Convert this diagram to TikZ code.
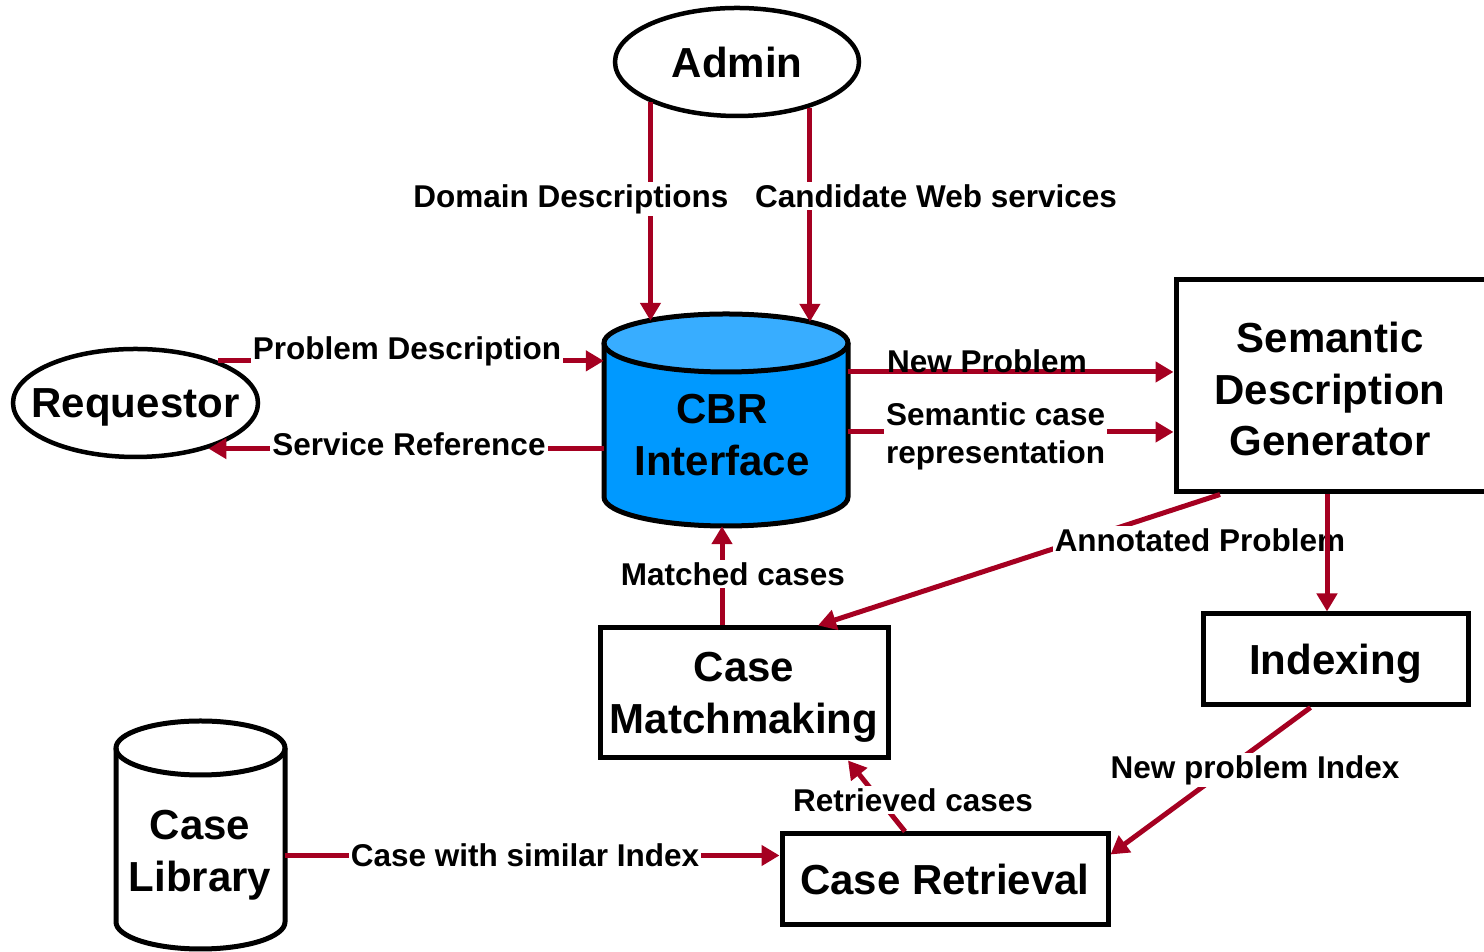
\documentclass[tikz,border=0pt]{standalone}
\usepackage{fontspec}
\setmainfont{Liberation Sans}
\usetikzlibrary{shapes.geometric,arrows.meta,calc}
\definecolor{arrowred}{HTML}{A50021}
\definecolor{cbrside}{HTML}{0099FF}
\definecolor{cbrtop}{HTML}{38ADFF}
\newcommand{\bigtxt}{\fontsize{42}{51.5}\selectfont\bfseries}
\newcommand{\smalltxt}{\fontsize{31.5}{38}\selectfont\bfseries}
\tikzset{
  flow/.style={draw=arrowred, line width=5pt, -{Triangle[length=18pt,width=20pt]}},
  lbl/.style={fill=white, inner sep=2pt, font=\smalltxt},
  box/.style={draw, line width=5pt, inner sep=0pt, align=center, text depth=0pt, font=\bigtxt},
  actor/.style={ellipse, draw, line width=4.5pt, inner sep=0pt, text depth=0pt, minimum width=244, minimum height=108, font=\bigtxt},
  cylline/.style={draw, line width=5pt}
}

\begin{document}
\begin{tikzpicture}[x=1pt,y=1pt]
\useasboundingbox (0,0) rectangle (1484,952);

\fill[cbrside] (604,609) -- (604,455) arc[start angle=180,end angle=360,x radius=122,y radius=29] -- (848,609) -- cycle;
\fill[cbrtop] (726,609) ellipse [x radius=122,y radius=29];
\draw[cylline] (604,609) -- (604,455) arc[start angle=180,end angle=360,x radius=122,y radius=29] -- (848,609);
\draw[cylline] (726,609) ellipse [x radius=122,y radius=29];
\node[inner sep=0pt, minimum width=244, minimum height=212] (cbr) at (726,532) {};
\node[font=\bigtxt, align=center] at (722,517) {CBR\\Interface};

\draw[cylline] (116,204) -- (116,30) arc[start angle=180,end angle=360,x radius=84.5,y radius=27] -- (285,204);
\draw[cylline] (200.5,204) ellipse [x radius=84.5,y radius=27];
\node[inner sep=0pt, minimum width=169, minimum height=228] (lib) at (200.5,117) {};
\node[font=\bigtxt, align=center] at (200,97) {Case\\Library};

\node[actor] (admin) at (737,890) {Admin};
\node[actor, minimum width=245, inner xsep=-18pt] (req) at (135.5,549) {Requestor};

\node[box, minimum width=320, minimum height=212] (sdg) at (1336,566) {};
\node[font=\bigtxt, align=center, text depth=0pt] at (1330,563) {Semantic\\Description\\Generator};
\node[box, minimum width=265, minimum height=91] (idx) at (1335.5,292.5) {Indexing};
\node[box, minimum width=288, minimum height=130] (cm) at (744,259) {Case\\Matchmaking};
\node[box, minimum width=326, minimum height=91] (cr) at (945,72.5) {Case Retrieval};

\coordinate (np) at ($(cbr.east)+(0,48)$);
\coordinate (sc) at ($(cbr.east)+(0,-12)$);
\coordinate (ap) at ($(sdg.south)+(-9,0)$);
\coordinate (mc) at ($(cm.north)+(-22,0)$);
\coordinate (cs) at ($(cr.west)+(0,24)$);

\draw[flow] (admin.205) -- ($(admin.205 |- cbr.north)+(0,-7)$);
\draw[flow] (admin.328) -- ($(admin.328 |- cbr.north)+(0,-8)$);
\draw[flow] (req.27) -- (req.27 -| cbr.west);
\draw[flow] (req.328 -| cbr.west) -- (req.328);
\draw[flow] (np) -- (np -| sdg.west);
\draw[flow] (sc) -- (sc -| sdg.west);
\draw[flow] ($(sdg.south)+(-116,0)$) -- ($(cm.north)+(74,0)$);
\draw[flow] (mc) -- (mc |- cbr.south);
\draw[flow] ($(cr.north)+(-40,0)$) -- ($(cm.south)+(104,0)$);
\draw[flow] ($(idx.south)+(-25,0)$) -- ($(cr.east)+(0,25)$);
\draw[flow] (cs -| lib.east) -- (cs);

\node[lbl] (ldd) at (571,753) {Domain Descriptions};
\node[lbl] (lcw) at (936,756) {Candidate Web services};
\node[lbl] (lpd) at (407,601) {Problem Description};
\node[lbl] (lsr) at (409,508) {Service Reference};
\node[lbl, fill=none] (lnp) at (987,591) {New Problem};
\node[lbl, align=left, anchor=west] (lsc) at (884,516) {Semantic case\\representation};
\node[lbl] (lap) at (1200,412) {Annotated Problem};
\node[lbl] (lmc) at (733,378) {Matched cases};
\node[lbl] (lrc) at (913,152) {Retrieved cases};
\node[lbl] (lni) at (1255,182) {New problem Index};
\node[lbl] (lcs) at (525,97) {Case with similar Index};

\draw[flow] (ap) -- (ap |- idx.north);
\end{tikzpicture}
\end{document}
